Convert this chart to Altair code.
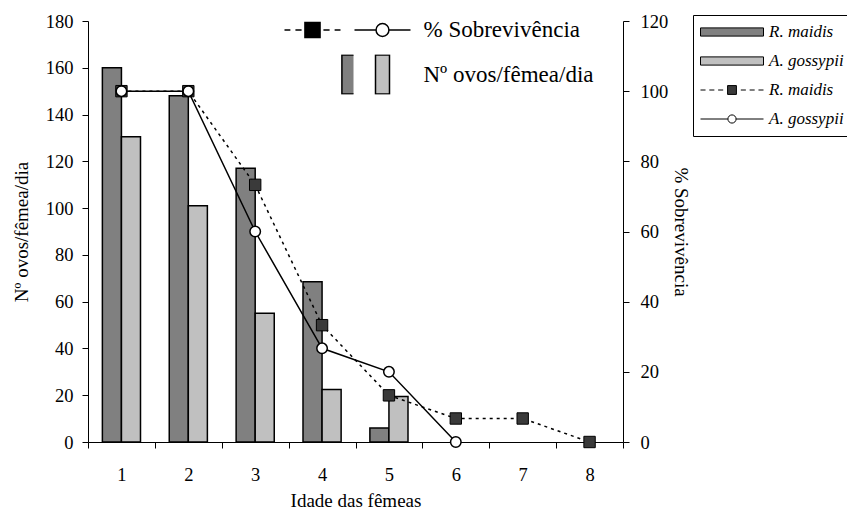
import altair as alt
import pandas as pd

# ---------------- data ----------------
bar_days = [1, 2, 3, 4, 5]
eggs_rmaidis = [160, 148, 117, 68.5, 6]
eggs_agossypii = [130.5, 101, 55, 22.5, 19.5]

surv_days_rm = [1, 2, 3, 4, 5, 6, 7, 8]
surv_rmaidis = [100, 100, 73.3, 33.3, 13.3, 6.7, 6.7, 0]
surv_days_ag = [1, 2, 3, 4, 5, 6]
surv_agossypii = [100, 100, 60, 26.7, 20, 0]

x_tick_values = [0.5 + 0.5 * i for i in range(17)]
y_left_ticks = [0, 20, 40, 60, 80, 100, 120, 140, 160, 180]
y_right_ticks = [0, 20, 40, 60, 80, 100, 120]

# legend entries (box on the right)
leg1_keys = ["rm_bar", "ag_bar", "rm_line", "ag_line"]
leg1_labels = ["R. maidis", "A. gossypii", "R. maidis", "A. gossypii"]
# legend entries (inside the plot), column-major: col1 = symbols only, col2 = with text
leg2_keys = ["s_rm", "o_rm", "s_ag", "o_ag"]
leg2_labels = ["", "", "% Sobrevivência", "Nº ovos/fêmea/dia"]

FONT = "Liberation Serif"
DARK = "#808080"
LIGHT = "#c0c0c0"
SQ = "#3a3a3a"
W, H = 535, 421
BW = 0.285

bars_df = pd.DataFrame({"day": bar_days, "rm": eggs_rmaidis, "ag": eggs_agossypii})
rm_df = pd.DataFrame({"day": surv_days_rm, "surv": surv_rmaidis})
ag_df = pd.DataFrame({"day": surv_days_ag, "surv": surv_agossypii})

xscale = alt.Scale(domain=[0.5, 8.5], nice=False, zero=False)
xaxis = alt.Axis(
    values=x_tick_values,
    labelExpr="datum.value % 1 === 0 ? format(datum.value, 'd') : ''",
    tickOpacity={"condition": {"test": "datum.value % 1 === 0", "value": 0}, "value": 1},
    tickSize=6, labelPadding=17, grid=False, labelFontSize=18.5, titleFontSize=19,
    titlePadding=8, labelFlush=False, labelOverlap=False,
    domainColor="black", tickColor="black", labelColor="black", titleColor="black",
)
yl_scale = alt.Scale(domain=[0, 180], nice=False)
yl_axis = alt.Axis(
    values=y_left_ticks, tickSize=6, labelPadding=9, grid=False,
    labelFontSize=18.5, titleFontSize=19, titlePadding=14,
    domainColor="black", tickColor="black", labelColor="black", titleColor="black",
)
yr_scale = alt.Scale(domain=[0, 120], nice=False)
yr_axis = alt.Axis(
    orient="right", values=y_right_ticks, tickSize=6, labelPadding=11, grid=False,
    labelFontSize=18.5, titleFontSize=19, titlePadding=3,
    domainColor="black", tickColor="black", labelColor="black", titleColor="black",
)

X_TITLE = "Idade das fêmeas"
YL_TITLE = "Nº ovos/fêmea/dia"
YR_TITLE = "% Sobrevivência"

bar_rm = alt.Chart(bars_df).transform_calculate(
    x0=f"datum.day - {BW}"
).mark_rect(fill=DARK, stroke="black", strokeWidth=1.5).encode(
    x=alt.X("x0:Q", scale=xscale, axis=xaxis, title=X_TITLE),
    x2="day:Q",
    y=alt.Y("rm:Q", scale=yl_scale, axis=yl_axis, title=YL_TITLE),
    y2=alt.datum(0),
)
bar_ag = alt.Chart(bars_df).transform_calculate(
    x1=f"datum.day + {BW}"
).mark_rect(fill=LIGHT, stroke="black", strokeWidth=1.5).encode(
    x=alt.X("day:Q", scale=xscale, axis=xaxis, title=X_TITLE),
    x2="x1:Q",
    y=alt.Y("ag:Q", scale=yl_scale, axis=yl_axis, title=YL_TITLE),
    y2=alt.datum(0),
)

# ---- legend (inside plot) ----
leg2_paths = [
    "M-1,0L-0.79,0M-0.61,0L-0.39,0M0.39,0L0.61,0M0.79,0L1,0"
    "M-0.27,-0.27L0.27,-0.27L0.27,0.27L-0.27,0.27Z",
    "M1.05,-0.7L1.55,-0.7L1.55,0.7L1.05,0.7Z",
    "M-1,0L-0.23,0M0.23,0L1,0M-0.23,0A0.23,0.23 0 1,1 0.23,0A0.23,0.23 0 1,1 -0.23,0Z",
    "M-0.25,-0.7L0.25,-0.7L0.25,0.7L-0.25,0.7Z",
]
leg2_fills = ["black", DARK, "white", LIGHT]
leg2_strokes = ["black"] * 4
expr2 = " : ".join(
    f"datum.value === '{k}' ? '{l}'" for k, l in zip(leg2_keys, leg2_labels)
) + " : ''"
leg2 = alt.Legend(
    title=None, orient="none", legendX=195.5, legendY=-11, direction="vertical",
    columns=2, symbolSize=3136, symbolStrokeWidth=1.5,
    symbolOpacity=1, labelFont=FONT, labelFontSize=23, labelColor="black",
    labelOffset=12, clipHeight=40, rowPadding=4.5, columnPadding=0, padding=0,
    labelExpr=expr2, labelLimit=0,
)
leg2_layer = alt.Chart(pd.DataFrame({"k": leg2_keys})).mark_point(
    opacity=0, filled=True
).encode(
    fill=alt.Fill("k:N", scale=alt.Scale(domain=leg2_keys, range=leg2_fills), legend=leg2),
    stroke=alt.Stroke("k:N", scale=alt.Scale(domain=leg2_keys, range=leg2_strokes), legend=leg2),
    shape=alt.Shape("k:N", scale=alt.Scale(domain=leg2_keys, range=leg2_paths), legend=leg2),
)

left = alt.layer(bar_rm, bar_ag, leg2_layer)

line_rm = alt.Chart(rm_df).mark_line(color="black", strokeDash=[3, 4], strokeWidth=1.5).encode(
    x=alt.X("day:Q", scale=xscale, axis=xaxis, title=X_TITLE),
    y=alt.Y("surv:Q", scale=yr_scale, axis=yr_axis, title=YR_TITLE),
)
pts_rm = alt.Chart(rm_df).mark_point(
    shape="square", filled=True, fill=SQ, stroke="black", strokeWidth=1, size=130, opacity=1
).encode(
    x=alt.X("day:Q", scale=xscale, axis=xaxis, title=X_TITLE),
    y=alt.Y("surv:Q", scale=yr_scale, axis=yr_axis, title=YR_TITLE),
)
line_ag = alt.Chart(ag_df).mark_line(color="black", strokeWidth=1.5).encode(
    x=alt.X("day:Q", scale=xscale, axis=xaxis, title=X_TITLE),
    y=alt.Y("surv:Q", scale=yr_scale, axis=yr_axis, title=YR_TITLE),
)
pts_ag = alt.Chart(ag_df).mark_point(
    shape="circle", filled=True, fill="white", stroke="black", strokeWidth=1.5, size=110, opacity=1
).encode(
    x=alt.X("day:Q", scale=xscale, axis=xaxis, title=X_TITLE),
    y=alt.Y("surv:Q", scale=yr_scale, axis=yr_axis, title=YR_TITLE),
)

# ---- legend (box on the right) ----
leg1_paths = [
    "M-1,-0.13L1,-0.13L1,0.13L-1,0.13Z",
    "M-1,-0.13L1,-0.13L1,0.13L-1,0.13Z",
    "M-1,0L-0.84,0M-0.72,0L-0.56,0M-0.44,0L-0.28,0M0.28,0L0.44,0M0.56,0L0.72,0M0.84,0L1,0"
    "M-0.14,-0.14L0.14,-0.14L0.14,0.14L-0.14,0.14Z",
    "M-1,0L-0.13,0M0.13,0L1,0M-0.13,0A0.13,0.13 0 1,1 0.13,0A0.13,0.13 0 1,1 -0.13,0Z",
]
leg1_fills = [DARK, LIGHT, SQ, "white"]
leg1_strokes = ["black"] * 4
expr1 = " : ".join(
    f"datum.value === '{k}' ? '{l}'" for k, l in zip(leg1_keys, leg1_labels)
) + " : ''"
leg1 = alt.Legend(
    title=None, orient="none", legendX=605, legendY=-6, direction="vertical",
    symbolSize=3969, symbolStrokeWidth=1,
    symbolOpacity=1, labelFont=FONT, labelFontSize=17, labelFontStyle="italic",
    labelColor="black", labelOffset=5, clipHeight=20, rowPadding=9, padding=7,
    strokeColor="black", fillColor="white", labelExpr=expr1, labelLimit=0,
)
leg1_layer = alt.Chart(pd.DataFrame({"k": leg1_keys})).mark_point(
    opacity=0, filled=True
).encode(
    fill=alt.Fill("k:N", scale=alt.Scale(domain=leg1_keys, range=leg1_fills), legend=leg1),
    stroke=alt.Stroke("k:N", scale=alt.Scale(domain=leg1_keys, range=leg1_strokes), legend=leg1),
    shape=alt.Shape("k:N", scale=alt.Scale(domain=leg1_keys, range=leg1_paths), legend=leg1),
)

right = alt.layer(line_rm, pts_rm, line_ag, pts_ag, leg1_layer)

chart = alt.layer(left, right).resolve_scale(
    y="independent", fill="independent", shape="independent", stroke="independent"
).properties(
    width=W, height=H,
    autosize=alt.AutoSizeParams(type="none"),
    padding={"left": 80, "top": 13, "right": 224, "bottom": 69},
    background="white",
).configure(font=FONT).configure_axis(
    labelFont=FONT, titleFont=FONT, titleFontWeight="normal"
).configure_view(stroke=None)

chart.save("out.html", embed_options={"renderer": "svg", "actions": False})
